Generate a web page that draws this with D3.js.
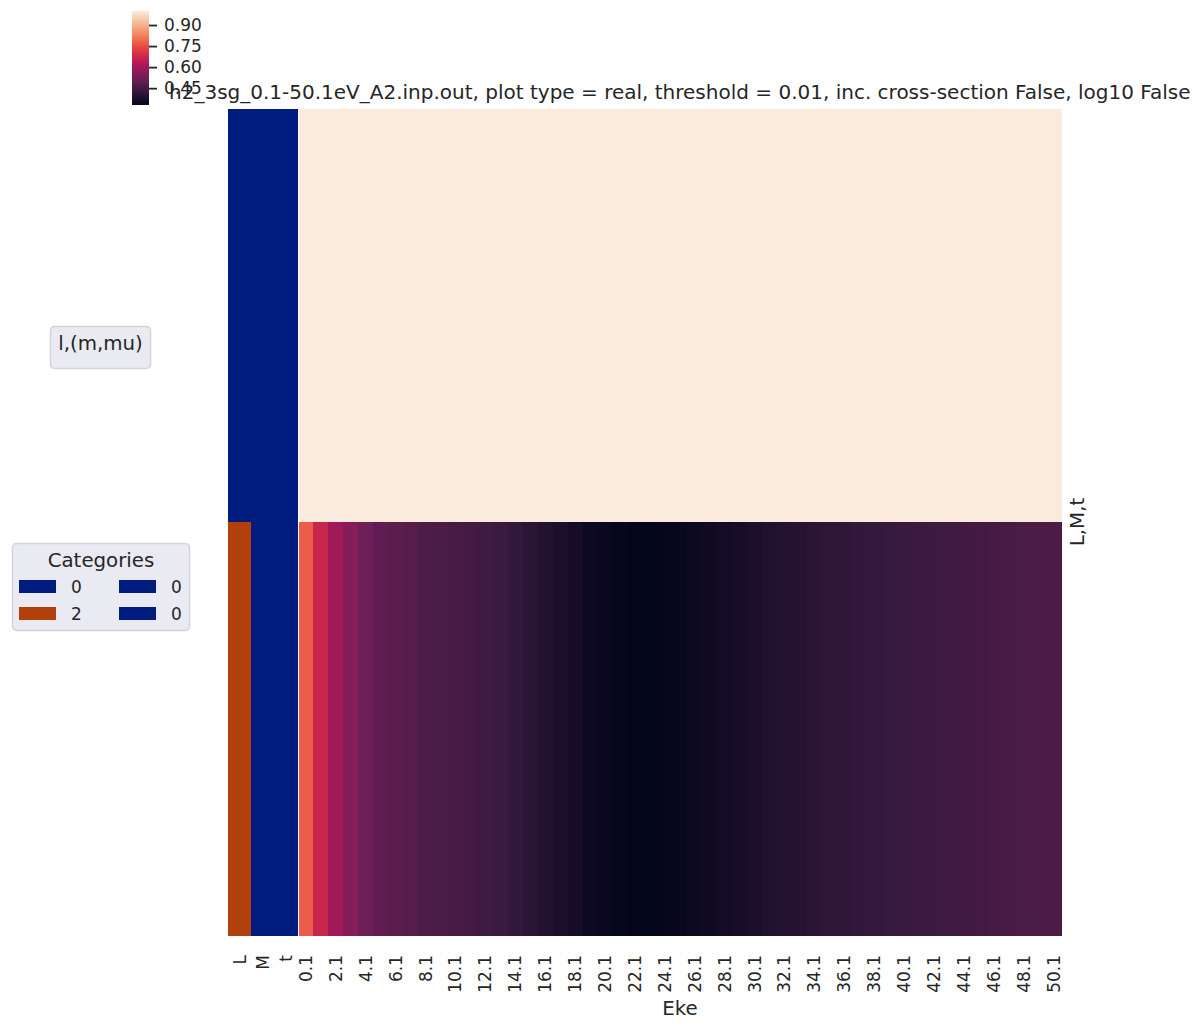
<!DOCTYPE html>
<html>
<head>
<meta charset="utf-8">
<script src="https://cdn.jsdelivr.net/npm/d3@7"></script>
<style>
    body { margin: 0; background: #fff; }
    svg text { font-family: "DejaVu Sans", sans-serif; fill: #262626; }
</style>
</head>
<body>
<svg id="chart" width="1203" height="1030"></svg>
<script>
// ============================================================================
// DATA
// ============================================================================

const titleText = 'h2_3sg_0.1-50.1eV_A2.inp.out, plot type = real, threshold = 0.01, inc. cross-section False, log10 False';

const ekeValues = [
    0.1, 1.1, 2.1, 3.1, 4.1, 5.1, 6.1, 7.1, 8.1, 9.1,
    10.1, 11.1, 12.1, 13.1, 14.1, 15.1, 16.1, 17.1, 18.1, 19.1,
    20.1, 21.1, 22.1, 23.1, 24.1, 25.1, 26.1, 27.1, 28.1, 29.1,
    30.1, 31.1, 32.1, 33.1, 34.1, 35.1, 36.1, 37.1, 38.1, 39.1,
    40.1, 41.1, 42.1, 43.1, 44.1, 45.1, 46.1, 47.1, 48.1, 49.1,
    50.1,
];

const rowKeys = ['0,0,0', '2,0,0'];      // L,M,t
const rowCategories = [                   // [L, M, t]
    [0, 0, 0],
    [2, 0, 0],
];
const categoryNames = ['L', 'M', 't'];

const rowL0 = [
    1.00, 1.00, 1.00, 1.00, 1.00, 1.00, 1.00, 1.00, 1.00, 1.00,
    1.00, 1.00, 1.00, 1.00, 1.00, 1.00, 1.00, 1.00, 1.00, 1.00,
    1.00, 1.00, 1.00, 1.00, 1.00, 1.00, 1.00, 1.00, 1.00, 1.00,
    1.00, 1.00, 1.00, 1.00, 1.00, 1.00, 1.00, 1.00, 1.00, 1.00,
    1.00, 1.00, 1.00, 1.00, 1.00, 1.00, 1.00, 1.00, 1.00, 1.00,
    1.00,
];

const rowL2 = [
    0.772, 0.667, 0.599, 0.556, 0.520, 0.497, 0.486, 0.478, 0.467, 0.460,
    0.455, 0.449, 0.442, 0.436, 0.420, 0.405, 0.389, 0.378, 0.364, 0.351,
    0.343, 0.336, 0.332, 0.330, 0.336, 0.340, 0.347, 0.355, 0.363, 0.370,
    0.378, 0.386, 0.391, 0.397, 0.405, 0.410, 0.414, 0.420, 0.424, 0.427,
    0.432, 0.436, 0.439, 0.442, 0.445, 0.449, 0.452, 0.455, 0.458, 0.461,
    0.463,
];

const colorbarTicks = [0.45, 0.60, 0.75, 0.90];

// ============================================================================
// CONFIG
// ============================================================================

const CONFIG = {
    heat: { left: 298.5, right: 1061, top: 109, bottom: 935 },
    catCols: { left: 228, right: 297 },
    vmin: 0.33,
    vmax: 1.0,
    rocket: ['#03051a', '#35193e', '#701f57', '#ad1759', '#e13342', '#f37651', '#f6b48f', '#faebdd'],
    catColors: { 0: '#001c7f', 2: '#b1400d' },
    legendBg: '#eaeaf2',
    legendBorder: '#d3d3d8',
    tickFont: '17px',
    labelFont: '19.8px',
};

// ============================================================================
// RENDER
// ============================================================================

const svg = d3.select('#chart');
const values = [rowL0, rowL2];

const rocket = d3.piecewise(d3.interpolateRgb, CONFIG.rocket);
const color = d3.scaleSequential(rocket).domain([CONFIG.vmin, CONFIG.vmax]);

const x = d3.scaleBand()
    .domain(ekeValues)
    .range([CONFIG.heat.left, CONFIG.heat.right]);

const y = d3.scaleBand()
    .domain(rowKeys)
    .range([CONFIG.heat.top, CONFIG.heat.bottom]);

const xCat = d3.scaleBand()
    .domain(categoryNames)
    .range([CONFIG.catCols.left, CONFIG.catCols.right]);

// heatmap cells
const cells = [];
values.forEach((row, ri) => {
    row.forEach((v, ci) => cells.push({ row: rowKeys[ri], eke: ekeValues[ci], v }));
});

svg.append('g')
    .selectAll('rect')
    .data(cells)
    .enter()
    .append('rect')
    .attr('x', d => x(d.eke))
    .attr('y', d => y(d.row))
    .attr('width', x.bandwidth() + 0.5)
    .attr('height', y.bandwidth() + 0.5)
    .attr('fill', d => color(d.v))
    .attr('shape-rendering', 'crispEdges');

// row category colour columns
const catCells = [];
rowCategories.forEach((cats, ri) => {
    cats.forEach((c, ci) => catCells.push({ row: rowKeys[ri], name: categoryNames[ci], c }));
});

svg.append('g')
    .selectAll('rect')
    .data(catCells)
    .enter()
    .append('rect')
    .attr('x', d => xCat(d.name))
    .attr('y', d => y(d.row))
    .attr('width', xCat.bandwidth() + 0.5)
    .attr('height', y.bandwidth() + 0.5)
    .attr('fill', d => CONFIG.catColors[d.c])
    .attr('shape-rendering', 'crispEdges');

// x tick labels (every second Eke value) + category names
const xLabels = svg.append('g');
ekeValues.filter((d, i) => i % 2 === 0).forEach(d => {
    const cx = x(d) + x.bandwidth() / 2;
    xLabels.append('text')
        .attr('transform', `translate(${cx + 6},955) rotate(-90)`)
        .attr('text-anchor', 'end')
        .style('font-size', CONFIG.tickFont)
        .text(d.toFixed(1));
});
categoryNames.forEach(n => {
    const cx = xCat(n) + xCat.bandwidth() / 2;
    xLabels.append('text')
        .attr('transform', `translate(${cx + 6},955) rotate(-90)`)
        .attr('text-anchor', 'end')
        .style('font-size', CONFIG.tickFont)
        .text(n);
});

svg.append('text')
    .attr('x', 680)
    .attr('y', 1015)
    .attr('text-anchor', 'middle')
    .style('font-size', CONFIG.labelFont)
    .text('Eke');

svg.append('text')
    .attr('transform', `translate(1084,${(CONFIG.heat.top + CONFIG.heat.bottom) / 2}) rotate(-90)`)
    .attr('text-anchor', 'middle')
    .style('font-size', CONFIG.labelFont)
    .text('L,M,t');

// title
svg.append('text')
    .attr('x', (CONFIG.heat.left + CONFIG.heat.right) / 2)
    .attr('y', 99)
    .attr('text-anchor', 'middle')
    .style('font-size', '20px')
    .text(titleText);

// ============================================================================
// COLORBAR
// ============================================================================

const cb = { x: 132, w: 17, top: 11, bottom: 105 };
const defs = svg.append('defs');
const grad = defs.append('linearGradient')
    .attr('id', 'cbGrad')
    .attr('x1', 0).attr('y1', 1).attr('x2', 0).attr('y2', 0);
d3.range(0, 1.0001, 0.05).forEach(t => {
    grad.append('stop')
        .attr('offset', t)
        .attr('stop-color', rocket(t));
});

svg.append('rect')
    .attr('x', cb.x)
    .attr('y', cb.top)
    .attr('width', cb.w)
    .attr('height', cb.bottom - cb.top)
    .attr('fill', 'url(#cbGrad)');

const cbScale = d3.scaleLinear()
    .domain([CONFIG.vmin, CONFIG.vmax])
    .range([cb.bottom, cb.top]);

const cbAxis = d3.axisRight(cbScale)
    .tickValues(colorbarTicks)
    .tickFormat(d3.format('.2f'))
    .tickSize(8)
    .tickPadding(7);

const cbG = svg.append('g')
    .attr('transform', `translate(${cb.x + cb.w},0)`)
    .call(cbAxis);
cbG.select('.domain').remove();
cbG.selectAll('.tick line').attr('stroke', '#262626').attr('stroke-width', 1.8);
cbG.selectAll('.tick text')
    .style('font-size', CONFIG.tickFont)
    .style('font-family', '"DejaVu Sans", sans-serif')
    .attr('fill', '#262626');

// ============================================================================
// LEGENDS
// ============================================================================

// row-label legend box
svg.append('rect')
    .attr('x', 50.5).attr('y', 326.5)
    .attr('width', 100).attr('height', 42)
    .attr('rx', 4)
    .attr('fill', CONFIG.legendBg)
    .attr('stroke', CONFIG.legendBorder)
    .attr('stroke-width', 1.5);

svg.append('text')
    .attr('x', 100.5).attr('y', 350)
    .attr('text-anchor', 'middle')
    .style('font-size', CONFIG.labelFont)
    .text('l,(m,mu)');

// categories legend
const legendItems = [
    { c: 0, col: 0, row: 0 },
    { c: 2, col: 0, row: 1 },
    { c: 0, col: 1, row: 0 },
    { c: 0, col: 1, row: 1 },
];

const lg = svg.append('g');
lg.append('rect')
    .attr('x', 12.5).attr('y', 543.5)
    .attr('width', 177).attr('height', 87)
    .attr('rx', 4)
    .attr('fill', CONFIG.legendBg)
    .attr('stroke', CONFIG.legendBorder)
    .attr('stroke-width', 1.5);

lg.append('text')
    .attr('x', 101).attr('y', 567)
    .attr('text-anchor', 'middle')
    .style('font-size', CONFIG.labelFont)
    .text('Categories');

legendItems.forEach(d => {
    const px = 19 + d.col * 100;
    const py = 580 + d.row * 27;
    lg.append('rect')
        .attr('x', px).attr('y', py)
        .attr('width', 37).attr('height', 13)
        .attr('fill', CONFIG.catColors[d.c]);
    lg.append('text')
        .attr('x', px + 52).attr('y', py + 13)
        .style('font-size', CONFIG.tickFont)
        .text(d.c);
});
</script>
</body>
</html>
